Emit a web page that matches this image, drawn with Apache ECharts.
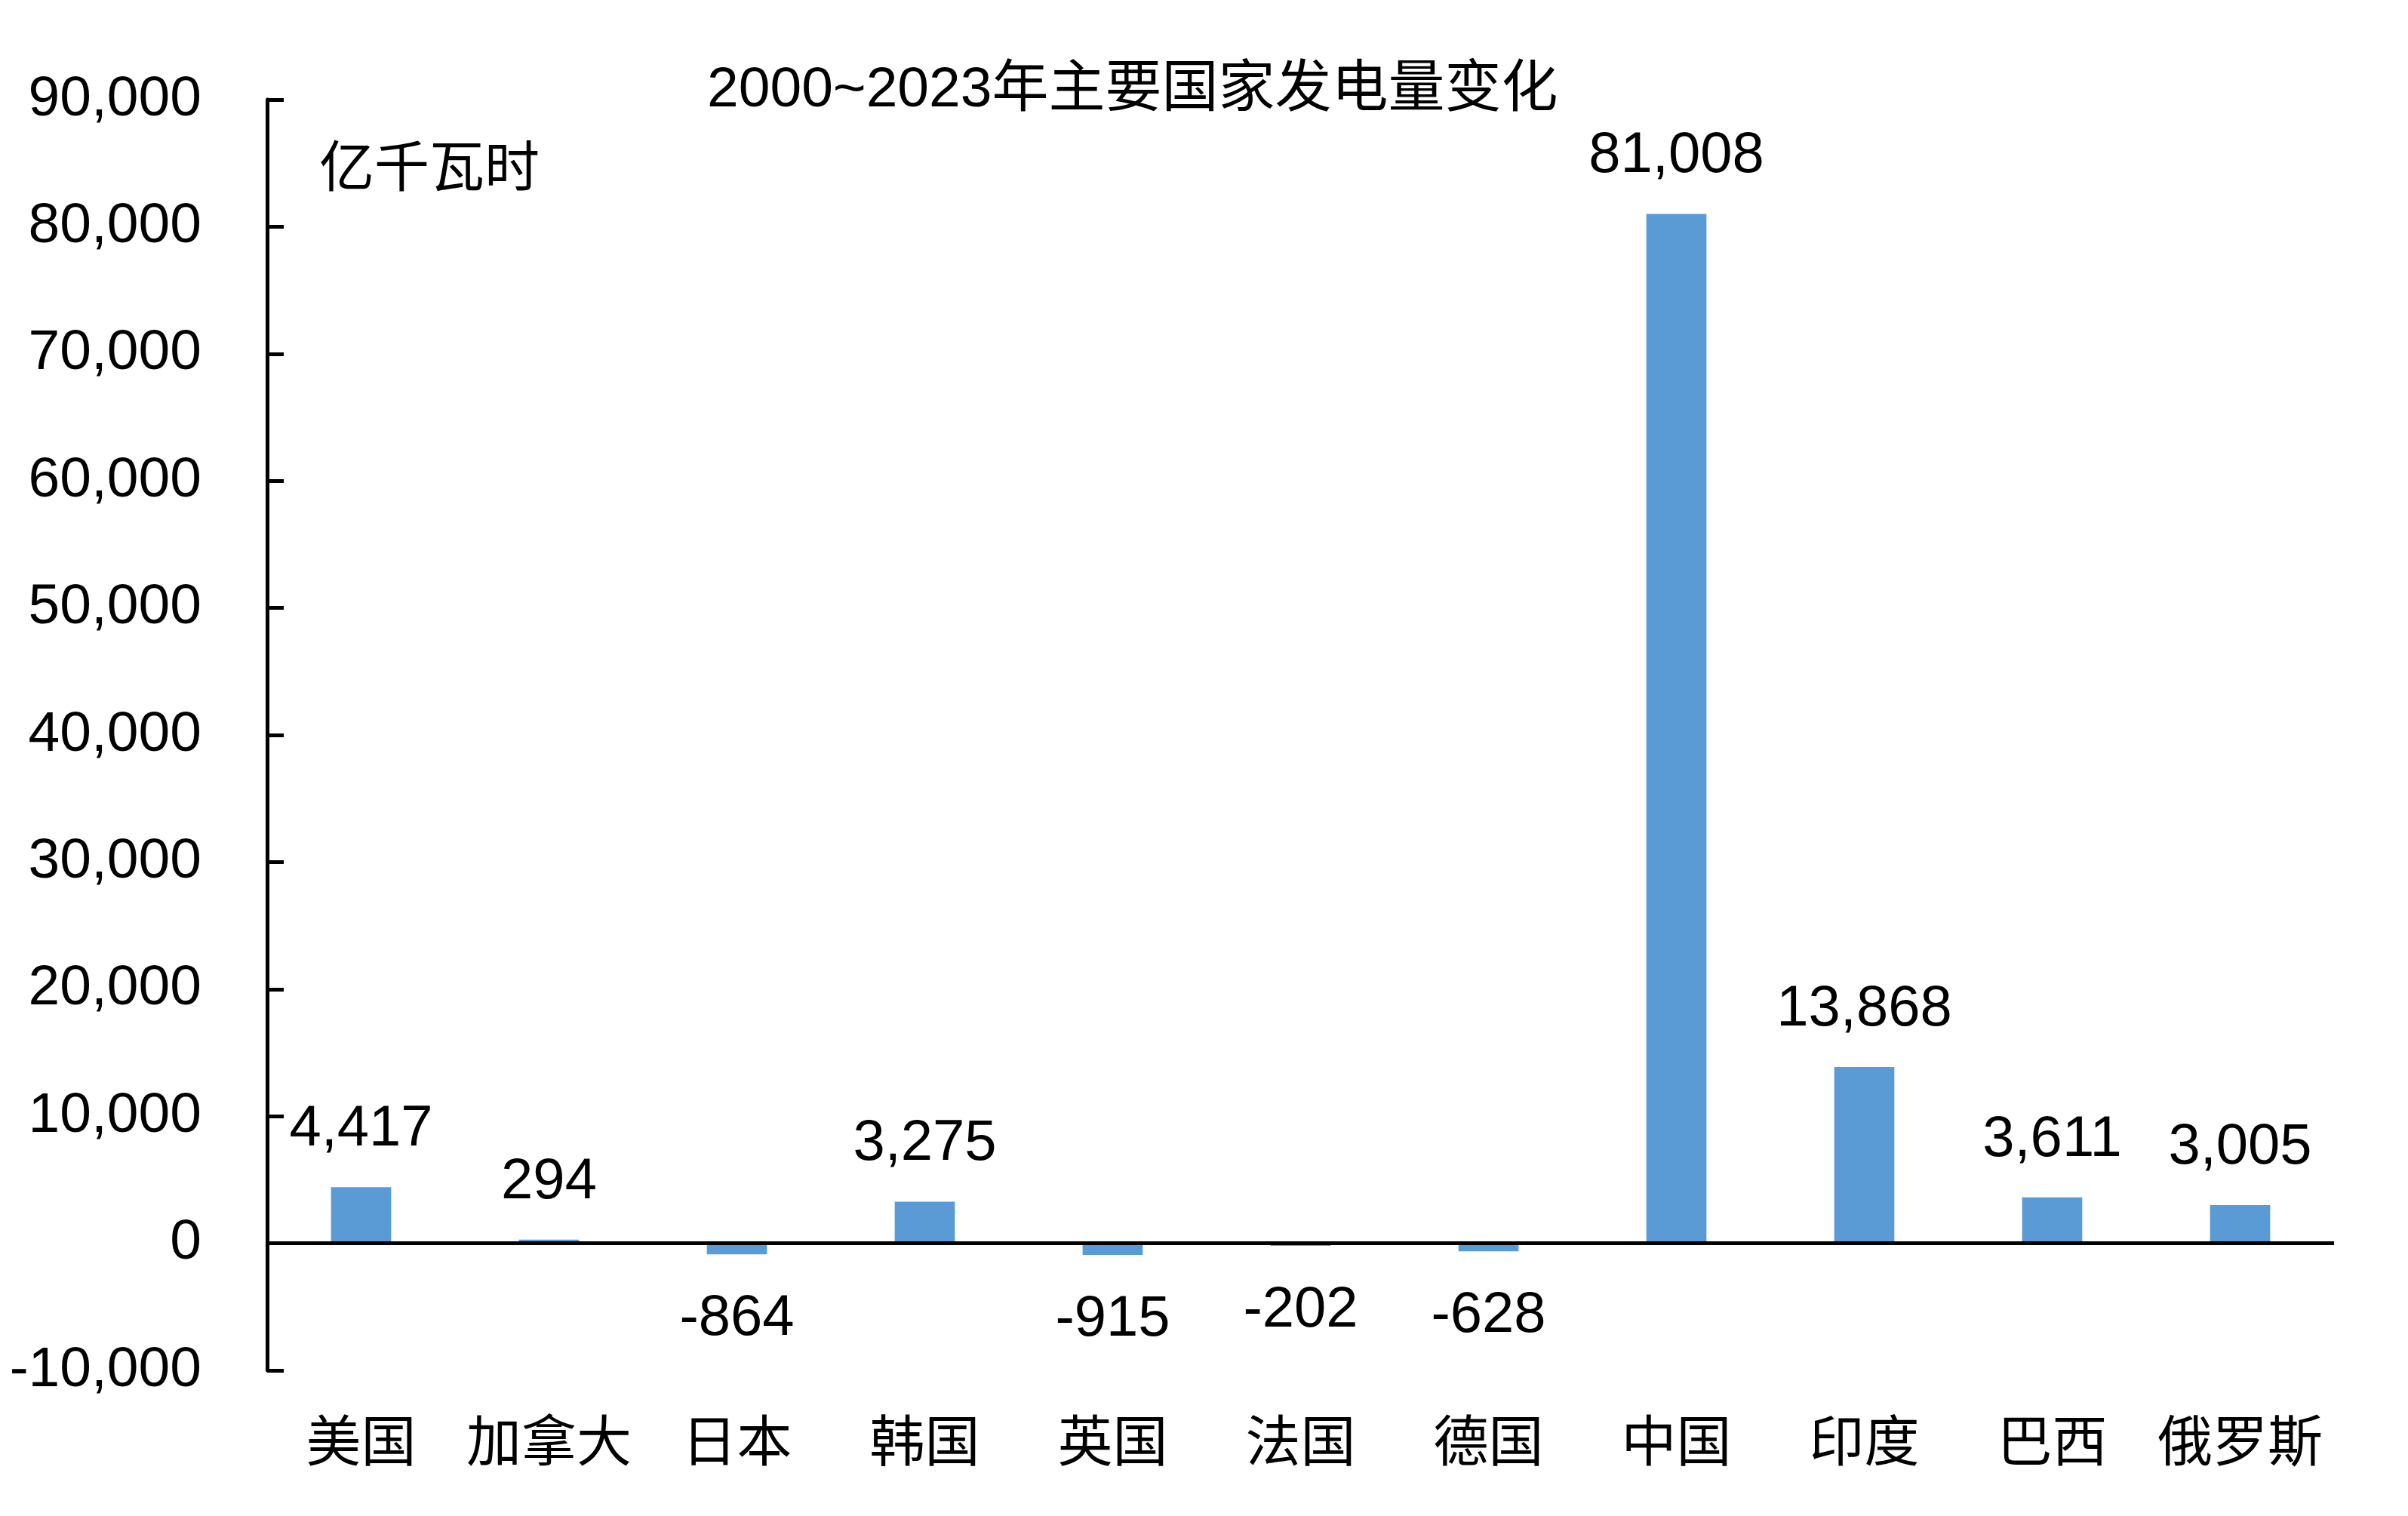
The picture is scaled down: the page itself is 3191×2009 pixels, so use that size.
<!DOCTYPE html>
<html><head><meta charset="utf-8">
<script src="https://cdn.jsdelivr.net/npm/echarts@6/dist/echarts.min.js"></script>
<style>html,body{margin:0;padding:0;background:#fff}#c{width:3191px;height:2009px}</style>
</head><body><div id="c"></div>
<script>
const titleText = '2000~2023年主要国家发电量变化';
const unitText = '亿千瓦时';
const categories = ['美国','加拿大','日本','韩国','英国','法国','德国','中国','印度','巴西','俄罗斯'];
const values = [4417, 294, -864, 3275, -915, -202, -628, 81008, 13868, 3611, 3005];
const yMin = -10000, yMax = 90000, yStep = 10000;

const FONT = '"Liberation Sans", Arial, "Noto Sans CJK SC", sans-serif';
const fmt = v => Number(v).toLocaleString('en-US');

const chart = echarts.init(document.getElementById('c'));
chart.setOption({
  backgroundColor: '#fff',
  animation: false,
  title: {
    text: titleText, left: 932, top: 78,
    textStyle: {fontFamily: FONT, fontSize: 75, fontWeight: 'normal', color: '#000'}
  },
  graphic: [{
    type: 'text', left: 423, top: 183,
    style: {text: unitText, font: '73px "Noto Sans CJK SC", sans-serif', fill: '#000'}
  }],
  grid: {left: 354, right: 98, top: 132, bottom: 193, containLabel: false},
  xAxis: {
    type: 'category', data: categories,
    axisLine: {show: false}, axisTick: {show: false},
    axisLabel: {margin: 56, fontSize: 73, color: '#000', fontFamily: '"Noto Sans CJK SC", sans-serif', interval: 0}
  },
  yAxis: {
    type: 'value', min: yMin, max: yMax, interval: yStep,
    axisLine: {show: true, lineStyle: {color: '#000', width: 5}},
    axisTick: {show: true, inside: true, length: 22, lineStyle: {color: '#000', width: 5}},
    splitLine: {show: false},
    axisLabel: {margin: 87, fontSize: 75, color: '#000', fontFamily: FONT, formatter: v => fmt(v)}
  },
  series: [{
    type: 'bar', barWidth: '32%',
    itemStyle: {color: '#5B9BD5'},
    data: values.map(v => ({value: v, label: v < 0 ? {position: 'bottom', distance: 48} : {position: 'top', distance: 38}})),
    label: {show: true, fontSize: 76, color: '#000', fontFamily: FONT, formatter: p => fmt(p.value)},
    markLine: {
      silent: true, symbol: 'none', label: {show: false},
      lineStyle: {color: '#000', width: 5, type: 'solid'},
      data: [{yAxis: 0}]
    }
  }]
});
</script></body></html>
